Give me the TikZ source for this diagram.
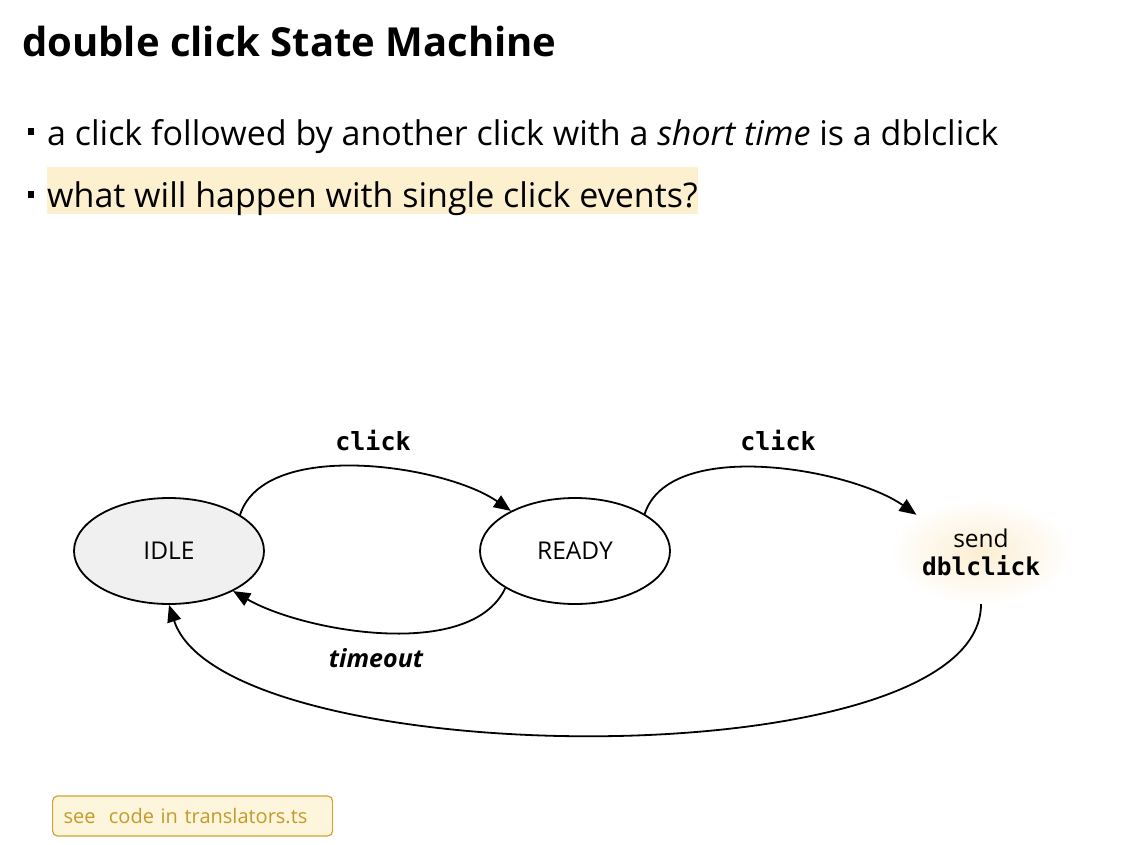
\documentclass[tikz,border=0pt]{standalone}
\usepackage{fontspec}
\setmainfont{Open Sans}
\setmonofont{DejaVu Sans Mono}
\usetikzlibrary{shapes.geometric,arrows.meta}
\definecolor{hl}{HTML}{FDF0CF}
\definecolor{gold}{HTML}{D1A332}
\definecolor{goldtext}{HTML}{C49A2A}
\definecolor{goldfill}{HTML}{FEF6DC}
\definecolor{idlefill}{HTML}{F0F0F0}
\definecolor{glow}{HTML}{FCEED2}
\begin{document}
\begin{tikzpicture}[x=1pt,y=1pt,
  state/.style={ellipse,draw=black,line width=1.8pt,minimum width=190pt,minimum height=106pt,inner sep=0pt,font=\fontsize{24.5}{28}\selectfont},
  trans/.style={line width=1.8pt,-{Triangle[length=17pt,width=14pt]}},
  lbl/.style={font=\fontsize{25}{30}\selectfont\ttfamily\bfseries},
  bullet/.style={fill=black,minimum width=6pt,minimum height=7pt,inner sep=0pt},
  body/.style={font=\fontsize{34}{40}\selectfont}
]
\useasboundingbox (0,0) rectangle (1130,-844);
\node[anchor=base west,inner sep=0pt,font=\fontsize{40}{46}\selectfont\bfseries] (title) at (22,-56) {double click State Machine};
\node[bullet] (b1) at (30.5,-131) {};
\node[body,anchor=base west,inner sep=0pt] (t1) at (47,-145) {a click followed by another click with a \textit{short time} is a dblclick};
\node[bullet] (b2) at (30.5,-194) {};
\node[body,anchor=west,fill=hl,inner xsep=0pt,inner ysep=0pt,text height=40pt,text depth=7pt] (t2) at (47,-190.5) {what will happen with single click events?};

\node[state,fill=idlefill] (idle) at (169,-551) {IDLE};
\node[state] (ready) at (575,-551) {READY};
\node[ellipse,minimum width=184pt,minimum height=104pt,inner sep=0pt,inner color=glow,outer color=white,align=center,font=\fontsize{24.5}{28}\selectfont] (send) at (981,-552) {send\\\ttfamily\bfseries dblclick};

\draw[trans] (idle.27) to[out=72,in=145,looseness=0.76] (ready.148);
\draw[trans] (ready.28) to[out=72,in=145,looseness=0.76] (send.150);
\draw[trans] (ready.208) to[out=-115,in=-30,looseness=0.76] (idle.-32);
\draw[trans] (send.south) to[out=-90,in=-72,looseness=0.56] (idle.south);

\node[lbl] (c1) at (373,-441) {click};
\node[lbl] (c2) at (778,-441) {click};
\node[font=\fontsize{25}{30}\selectfont\bfseries\itshape] (tmo) at (376,-658) {timeout};

\node[draw=gold,fill=goldfill,rounded corners=5pt,line width=1.2pt,text=goldtext,anchor=west,minimum height=40pt,inner xsep=11pt,text width=258pt,align=left,font=\fontsize{20}{24}\selectfont] (see) at (52,-816) {see\ \ code in translators.ts};
\end{tikzpicture}
\end{document}
